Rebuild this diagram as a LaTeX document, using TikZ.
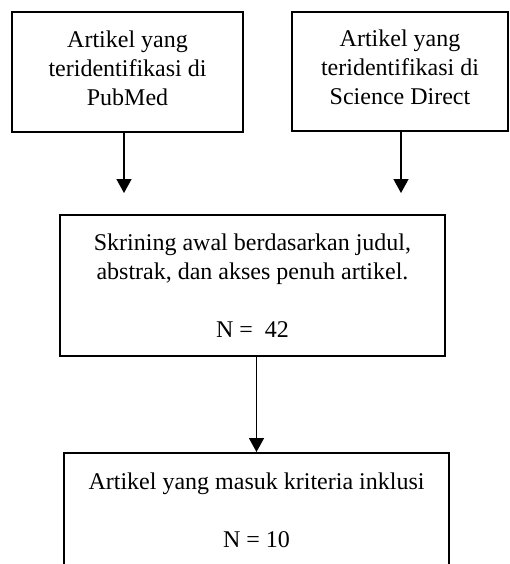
\documentclass[tikz,border=0pt]{standalone}
\usepackage{fontspec}
\setmainfont{Liberation Serif}
\usetikzlibrary{arrows.meta}

\tikzset{
  kotak/.style={draw, line width=1pt, align=center, inner sep=0pt,
    font=\fontsize{12pt}{14.5pt}\selectfont},
  panah/.style={line width=0.8pt, -{Triangle[length=7pt,width=7.5pt]}}
}

\begin{document}
\begin{tikzpicture}[x=0.5pt,y=-0.5pt]
  \useasboundingbox (0,0) rectangle (510,564);

  % sumber artikel
  \node[kotak, minimum width=115.5pt, minimum height=60pt, text depth=4pt] (pubmed) at (127.5,72)
    {Artikel yang\\teridentifikasi di\\PubMed};
  \node[kotak, minimum width=108pt, minimum height=59.5pt, text depth=4pt] (sciencedirect) at (400,71.5)
    {Artikel yang\\teridentifikasi di\\Science Direct};

  % skrining dan inklusi
  \node[kotak, minimum width=192.5pt, minimum height=70.5pt] (skrining) at (252.5,285.5)
    {Skrining awal berdasarkan judul,\\abstrak, dan akses penuh artikel.\\[14.5pt]N =\ \ 42};
  \node[kotak, minimum width=192.5pt, minimum height=57pt] (inklusi) at (256.5,510)
    {Artikel yang masuk kriteria inklusi\\[14.5pt]N = 10};

  % ujung panah
  \coordinate (ujung1) at (124,193);
  \coordinate (ujung2) at (401,193);

  % panah
  \draw[panah] (pubmed.south -| ujung1) -- (ujung1);
  \draw[panah] (sciencedirect.south -| ujung2) -- (ujung2);
  \draw[panah] (skrining.south -| inklusi.north) -- (inklusi.north);
\end{tikzpicture}
\end{document}
